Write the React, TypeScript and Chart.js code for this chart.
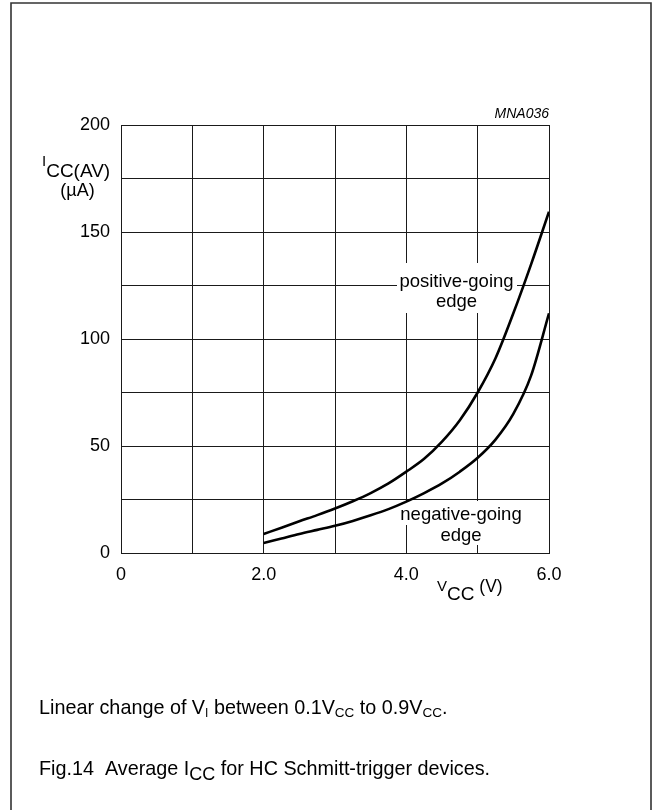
import React, { useEffect, useRef } from 'react';
import { Chart, registerables } from 'chart.js';

Chart.register(...registerables);

// ---- data ----
const vcc = [2.0, 2.25, 2.5, 2.75, 3.0, 3.25, 3.5, 3.75, 4.0, 4.25, 4.5, 4.75, 5.0, 5.25, 5.5, 5.75, 6.0];
const iccPositive = [8.9, 11.8, 14.8, 17.7, 20.8, 24.2, 28, 32.5, 38, 44, 52, 62, 75, 91, 112, 135, 159.5];
const iccNegative = [4.7, 6.8, 8.9, 10.8, 12.7, 15, 17.6, 20.5, 24, 28, 32.5, 38, 44.5, 53, 65, 83, 112];
const xTickLabels = ['0', '2.0', '4.0', '6.0'];
const yTickLabels = ['0', '50', '100', '150', '200'];

const FONT = "'Liberation Sans', Arial, Helvetica, sans-serif";

type Run = { t: string; size: number; dy?: number; italic?: boolean };

function drawRuns(
  ctx: CanvasRenderingContext2D,
  runs: Run[],
  x: number,
  y: number,
  align: 'left' | 'center' | 'right',
  color = '#000'
) {
  ctx.save();
  ctx.textBaseline = 'alphabetic';
  ctx.textAlign = 'left';
  ctx.fillStyle = color;
  const widths = runs.map((r) => {
    ctx.font = `${r.italic ? 'italic ' : ''}${r.size}px ${FONT}`;
    return ctx.measureText(r.t).width;
  });
  const total = widths.reduce((a, b) => a + b, 0);
  let cx = align === 'left' ? x : align === 'center' ? x - total / 2 : x - total;
  runs.forEach((r, i) => {
    ctx.font = `${r.italic ? 'italic ' : ''}${r.size}px ${FONT}`;
    ctx.fillText(r.t, cx, y + (r.dy || 0));
    cx += widths[i];
  });
  ctx.restore();
}

const decorPlugin = {
  id: 'decor',
  beforeDatasetsDraw(chart: any) {
    const ctx: CanvasRenderingContext2D = chart.ctx;
    ctx.save();
    ctx.fillStyle = '#fff';
    ctx.fillRect(397, 263, 120, 50);
    ctx.fillRect(398, 501, 126, 24);
    ctx.fillRect(440, 525, 44, 20);
    ctx.restore();
    drawRuns(ctx, [{ t: 'positive-going', size: 18.5 }], 456.5, 287, 'center');
    drawRuns(ctx, [{ t: 'edge', size: 18.5 }], 456.5, 306.5, 'center');
    drawRuns(ctx, [{ t: 'negative-going', size: 18.5 }], 461, 520, 'center');
    drawRuns(ctx, [{ t: 'edge', size: 18.5 }], 461, 541, 'center');
  },
  afterDraw(chart: any) {
    const ctx: CanvasRenderingContext2D = chart.ctx;
    // page frame
    ctx.save();
    ctx.strokeStyle = '#333';
    ctx.lineWidth = 1.6;
    ctx.beginPath();
    ctx.moveTo(11, 810);
    ctx.lineTo(11, 3);
    ctx.lineTo(651, 3);
    ctx.lineTo(651, 810);
    ctx.stroke();
    ctx.restore();

    drawRuns(ctx, [{ t: 'MNA036', size: 14, italic: true }], 549, 118, 'right');

    // y axis title
    drawRuns(ctx, [
      { t: 'I', size: 15, dy: -11 },
      { t: 'CC(AV)', size: 19 },
    ], 42, 177, 'left');
    drawRuns(ctx, [{ t: '(\u00b5A)', size: 18 }], 77.5, 196, 'center');

    // x axis title
    drawRuns(ctx, [
      { t: 'V', size: 15, dy: -9 },
      { t: 'CC', size: 19 },
      { t: ' (V)', size: 17.5, dy: -8 },
    ], 437, 600, 'left');

    // captions
    drawRuns(ctx, [
      { t: 'Linear change of V', size: 19.8 },
      { t: 'I', size: 12, dy: 3 },
      { t: ' between 0.1V', size: 19.8 },
      { t: 'CC', size: 13.5, dy: 3 },
      { t: ' to 0.9V', size: 19.8 },
      { t: 'CC', size: 13.5, dy: 3 },
      { t: '.', size: 19.8 },
    ], 39, 714, 'left');
    drawRuns(ctx, [
      { t: 'Fig.14  Average I', size: 19.8 },
      { t: 'CC', size: 18, dy: 5 },
      { t: ' for HC Schmitt-trigger devices.', size: 19.8 },
    ], 39, 775, 'left');
  },
};

export default function App() {
  const ref = useRef<HTMLCanvasElement | null>(null);

  useEffect(() => {
    if (!ref.current) return;
    const gridColor = '#1a1a1a';
    const chart = new Chart(ref.current, {
      type: 'scatter',
      data: {
        datasets: [
          {
            label: 'positive-going edge',
            data: vcc.map((x, i) => ({ x, y: iccPositive[i] })),
            showLine: true,
            borderColor: '#000',
            borderWidth: 2.6,
            pointRadius: 0,
            cubicInterpolationMode: 'monotone',
          },
          {
            label: 'negative-going edge',
            data: vcc.map((x, i) => ({ x, y: iccNegative[i] })),
            showLine: true,
            borderColor: '#000',
            borderWidth: 2.6,
            pointRadius: 0,
            cubicInterpolationMode: 'monotone',
          },
        ],
      },
      options: {
        responsive: false,
        animation: false,
        layout: { padding: { left: 0, right: 104, top: 125, bottom: 217 } },
        plugins: { legend: { display: false }, tooltip: { enabled: false } },
        scales: {
          x: {
            type: 'linear',
            min: 0,
            max: 6,
            ticks: {
              stepSize: 1,
              autoSkip: false,
              maxRotation: 0,
              padding: 11,
              color: '#000',
              font: { family: FONT, size: 18 },
              callback: (v: any) => (Number(v) % 2 === 0 ? xTickLabels[Number(v) / 2] : ''),
            },
            grid: { color: gridColor, lineWidth: 1, drawTicks: false },
            border: { color: gridColor, width: 1 },
            afterFit: (s: any) => {
              s.height = 40;
            },
          },
          y: {
            type: 'linear',
            min: 0,
            max: 200,
            ticks: {
              stepSize: 25,
              autoSkip: false,
              padding: 11,
              color: '#000',
              font: { family: FONT, size: 18 },
              callback: (v: any) => (Number(v) % 50 === 0 ? yTickLabels[Number(v) / 50] : ''),
            },
            grid: { color: gridColor, lineWidth: 1, drawTicks: false },
            border: { color: gridColor, width: 1 },
            afterFit: (s: any) => {
              s.width = 121;
            },
          },
        },
      },
      plugins: [decorPlugin],
    } as any);
    return () => chart.destroy();
  }, []);

  return (
    <canvas
      ref={ref}
      width={653}
      height={810}
      style={{ position: 'absolute', left: 0, top: 0, width: 653, height: 810, background: '#fff' }}
    />
  );
}
